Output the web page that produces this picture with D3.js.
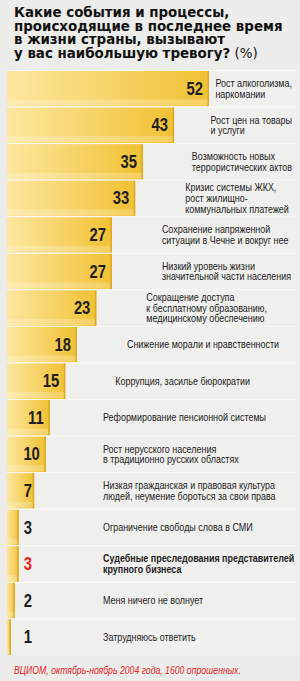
<!DOCTYPE html>
<html>
<head>
<meta charset="utf-8">
<script src="https://cdn.jsdelivr.net/npm/d3@7"></script>
<style>
  body { margin: 0; background: #ececea; }
  svg { display: block; }
</style>
</head>
<body>
<svg id="chart" width="300" height="681"></svg>
<script>
// survey answers, top to bottom
const answers = [
  ["Рост алкоголизма,", "наркомании"],
  ["Рост цен на товары", "и услуги"],
  ["Возможность новых", "террористических актов"],
  ["Кризис системы ЖКХ,", "рост жилищно-", "коммунальных платежей"],
  ["Сохранение напряженной", "ситуации в Чечне и вокруг нее"],
  ["Низкий уровень жизни", "значительной части населения"],
  ["Сокращение доступа", "к бесплатному образованию,", "медицинскому обеспечению"],
  ["Снижение морали и нравственности"],
  ["Коррупция, засилье бюрократии"],
  ["Реформирование пенсионной системы"],
  ["Рост нерусского населения", "в традиционно русских областях"],
  ["Низкая гражданская и правовая культура", "людей, неумение бороться за свои права"],
  ["Ограничение свободы слова в СМИ"],
  ["Судебные преследования представителей", "крупного бизнеса"],
  ["Меня ничего не волнует"],
  ["Затрудняюсь ответить"]
];
const percents = [52, 43, 35, 33, 27, 27, 23, 18, 15, 11, 10, 7, 3, 3, 2, 1];
const highlighted = [13]; // index of the answer printed in bold/red

const titleLines = ["Какие события и процессы,", "происходящие в последнее время", "в жизни страны, вызывают", "у вас наибольшую тревогу?"];
const titleSuffix = " (%)";
const sourceNote = "ВЦИОМ, октябрь-ноябрь 2004 года, 1600 опрошенных.";

const svg = d3.select("#chart");
// no narrow face installed -> squeeze Liberation Sans horizontally
const sans = "'Liberation Sans', Arial, sans-serif";
const squeeze = 0.8;

const defs = svg.append("defs");
const grad = defs.append("linearGradient").attr("id", "gold");
grad.append("stop").attr("offset", "0%").attr("stop-color", "#fde7a0");
grad.append("stop").attr("offset", "100%").attr("stop-color", "#f1c133");

const x = d3.scaleLinear().domain([0, 52]).range([7, 209]);
const y = d3.scaleBand().domain(d3.range(percents.length)).range([70, 655]);

// title
const title = svg.append("text")
    .attr("font-family", "'DejaVu Sans', sans-serif")
    .attr("font-size", 13.4)
    .attr("font-weight", "bold")
    .attr("fill", "#111");
titleLines.forEach((line, i) => {
  title.append("tspan").attr("x", 14).attr("y", 17 + i * 13.7).text(line);
  if (i === titleLines.length - 1) {
    title.append("tspan").attr("font-weight", "normal").text(titleSuffix);
  }
});

const rows = svg.append("g").selectAll("g")
  .data(percents.map((v, i) => ({ v, i, lines: answers[i] })))
  .join("g")
    .attr("transform", d => `translate(0,${y(d.i)})`);

// label panel
rows.append("rect")
    .attr("x", 7).attr("width", 290)
    .attr("height", y.bandwidth())
    .attr("fill", "#efefed");
rows.append("rect")
    .attr("x", 7).attr("width", 290)
    .attr("height", 1)
    .attr("fill", "#fafaf8");

// bars
rows.append("rect")
    .attr("x", x(0))
    .attr("y", 1)
    .attr("width", d => x(d.v) - x(0))
    .attr("height", y.bandwidth() - 1)
    .attr("fill", "url(#gold)");
rows.append("rect")
    .attr("x", x(0))
    .attr("y", y.bandwidth() - 7)
    .attr("width", d => x(d.v) - x(0))
    .attr("height", 6)
    .attr("fill", "#fff")
    .attr("opacity", 0.22);
rows.append("rect")
    .attr("x", d => x(d.v) - 1.5)
    .attr("y", 1)
    .attr("width", 1.5)
    .attr("height", y.bandwidth() - 1)
    .attr("fill", "#dba925");

// values
rows.append("g")
    .attr("transform", d => `translate(${Math.max(x(d.v) - 6, 32)},${y.bandwidth() / 2 + 6.5}) scale(${squeeze},1)`)
  .append("text")
    .attr("text-anchor", "end")
    .attr("font-family", sans)
    .attr("font-size", 18.5)
    .attr("font-weight", "bold")
    .attr("fill", d => highlighted.includes(d.i) ? "#e8221e" : "#1e1e1e")
    .text(d => d.v);

// answer labels
rows.each(function(d) {
  const lh = 10.6;
  const top = y.bandwidth() / 2 - (d.lines.length - 1) * lh / 2 + 4;
  const g = d3.select(this).append("g");
  const t = g.append("text")
      .attr("font-family", sans)
      .attr("font-size", 11.2)
      .attr("font-weight", highlighted.includes(d.i) ? "bold" : "normal")
      .attr("fill", "#222");
  d.lines.forEach((line, k) => t.append("tspan").attr("x", 0).attr("y", top + k * lh).text(line));
  const w = squeeze * d3.max(t.selectAll("tspan").nodes(), n => n.getComputedTextLength());
  const lx = Math.max(103, Math.min(292 - w, x(d.v) + 50));
  g.attr("transform", `translate(${lx},0) scale(${squeeze},1)`);
});

// source
svg.append("g")
    .attr("transform", `translate(14,674) scale(0.82,1)`)
  .append("text")
    .attr("font-family", sans)
    .attr("font-size", 10.6)
    .attr("font-style", "italic")
    .attr("fill", "#e8221e")
    .text(sourceNote);
</script>
</body>
</html>
